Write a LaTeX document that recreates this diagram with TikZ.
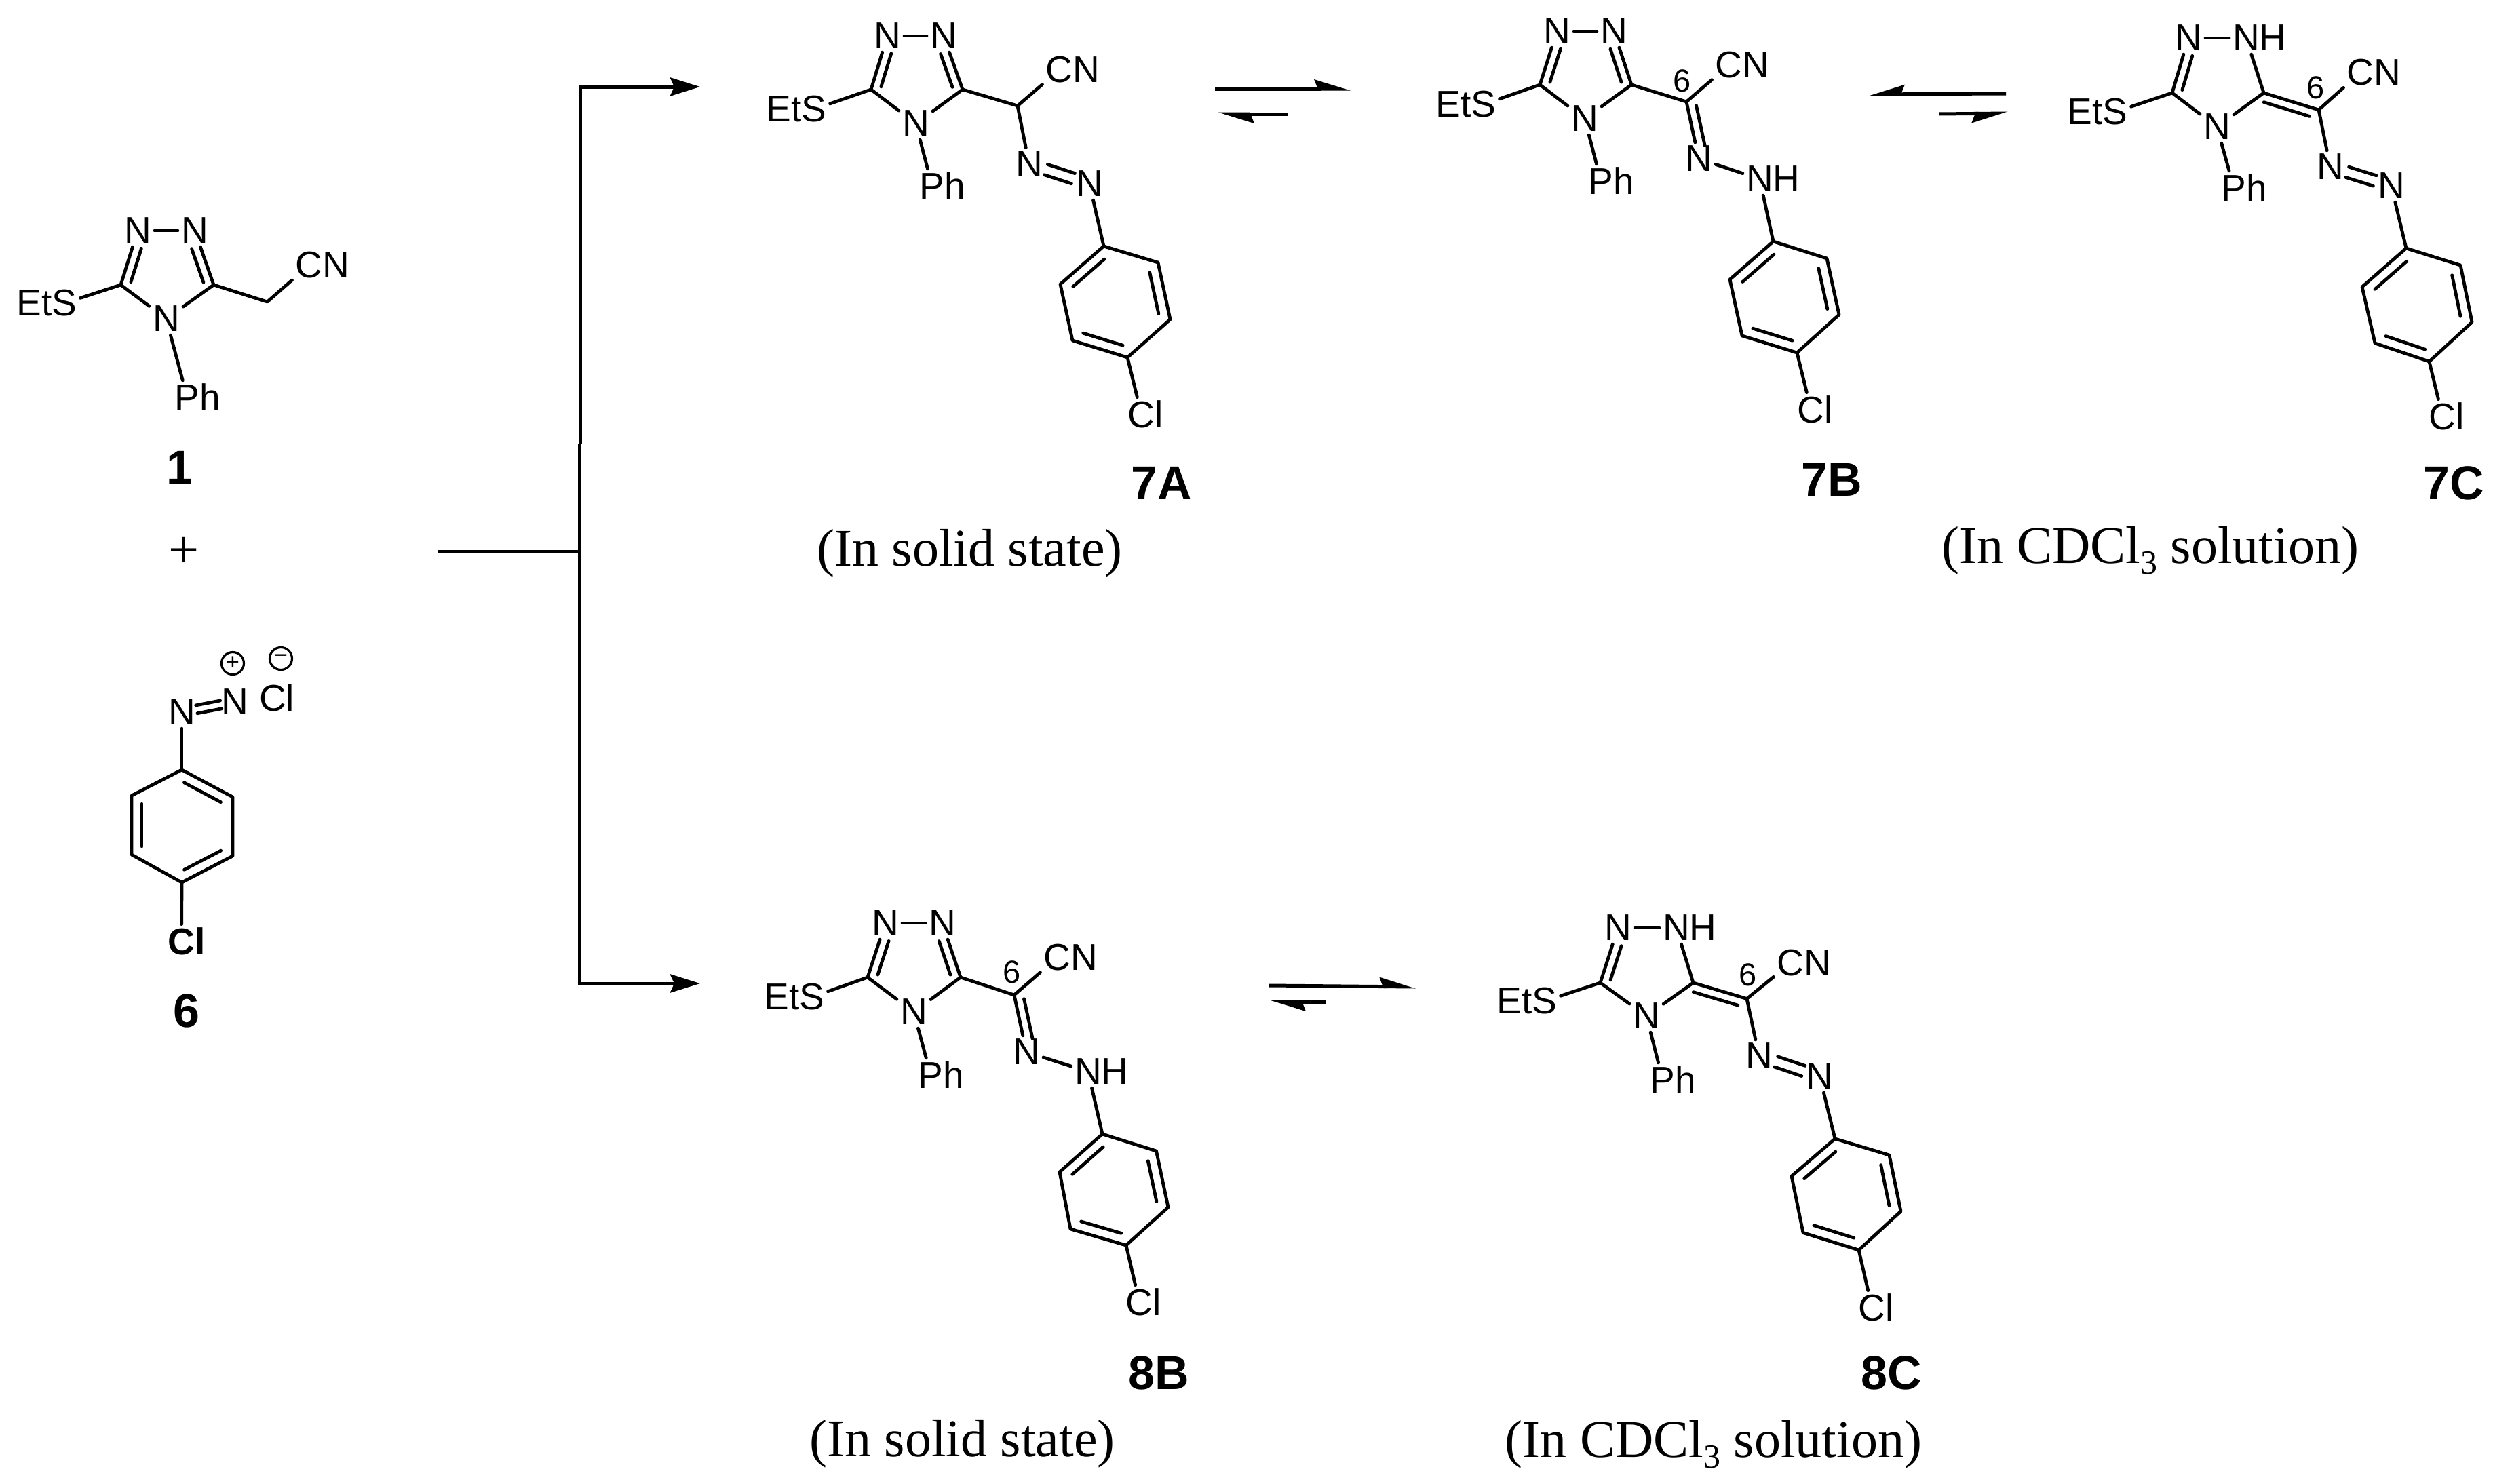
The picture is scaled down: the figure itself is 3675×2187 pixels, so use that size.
\documentclass[tikz,border=0pt]{standalone}
\usepackage{fontspec}
\setmainfont{Liberation Sans}
\newfontfamily\tms{Liberation Serif}
\usetikzlibrary{calc,arrows.meta}
\tikzset{
  bond/.style={line width=4.8pt,line cap=round,line join=round},
  rline/.style={line width=5pt},
  atom/.style={inner sep=5pt,font=\fontsize{55}{55}\selectfont},
  numlab/.style={inner sep=0pt,font=\fontsize{47}{47}\selectfont},
  cpd/.style={inner sep=0pt,font=\fontsize{70}{70}\selectfont\bfseries},
  cond/.style={inner sep=0pt,anchor=base,font=\fontsize{78}{78}\selectfont\tms},
  charge/.style={circle,draw,line width=3.2pt,minimum size=33pt,inner sep=0pt,font=\fontsize{34}{34}\selectfont},
  bigtip/.style={-{Stealth[length=44pt,width=27pt,inset=6pt]}},
  harpL/.style={line width=5pt,-{Stealth[length=45pt,width=27pt,inset=5pt,left]}},
  harpR/.style={line width=5pt,-{Stealth[length=45pt,width=27pt,inset=5pt,right]}}
}
% inner line of a double bond: a, b, angle, from, to, offset
\newcommand{\innerb}[6]{\draw[bond] ($(#1)!#4!(#2)!#6!#3:(#2)$) -- ($(#1)!#5!(#2)!#6!#3:(#2)$);}
% bonds common to all triazole rings
\newcommand{\coreb}[1]{
  \draw[bond] (#1N1) -- (#1N2);
  \draw[bond] (#1CL) -- (#1N1);
  \innerb{#1CL}{#1N1}{-90}{.1}{.72}{13pt}
  \draw[bond] (#1CR) -- (#1N2);
  \draw[bond] (#1CL) -- (#1N4);
  \draw[bond] (#1CR) -- (#1N4);
  \draw[bond] (#1CL) -- (#1S);
  \draw[bond] (#1N4) -- (#1P);
}
% para-chlorophenyl ring
\newcommand{\arylb}[1]{
  \draw[bond] (#1a1) -- (#1a2) -- (#1a3) -- (#1a4) -- (#1a5) -- (#1a6) -- cycle;
  \innerb{#1a6}{#1a1}{-90}{.14}{.86}{15pt}
  \innerb{#1a2}{#1a3}{-90}{.14}{.86}{15pt}
  \innerb{#1a4}{#1a5}{-90}{.14}{.86}{15pt}
  \draw[bond] (#1a4) -- (#1Cl);
}
% azo N=N
\newcommand{\azob}[1]{
  \innerb{#1Na}{#1Nb}{90}{.28}{.73}{8pt}
  \innerb{#1Na}{#1Nb}{-90}{.28}{.73}{8pt}
  \draw[bond] (#1Nb) -- (#1a1);
}
\begin{document}
\begin{tikzpicture}[x=1pt,y=-1pt]
\useasboundingbox (0,0) rectangle (3675,2187);

% ---------- compound 1
\node[atom] (mN1) at (203,340) {N};
\node[atom] (mN2) at (287,340) {N};
\coordinate (mCL) at (178,420);
\coordinate (mCR) at (315,420);
\node[atom] (mN4) at (245,470) {N};
\node[atom] (mS) at (95,447) {\llap{Et}S};
\node[atom] (mP) at (276,586) {P\rlap{h}};
\coordinate (mCH) at (394,445);
\node[atom] (mCN) at (455.5,391) {C\rlap{N}};
\coreb{m}
\innerb{mCR}{mN2}{90}{.1}{.72}{13pt}
\draw[bond] (mCR) -- (mCH) -- (mCN);
\node[cpd] (lab1) at (265,689) {1};
\node[inner sep=0pt,font=\fontsize{80}{80}\selectfont\tms] (plus) at (271.5,815) {+};

% ---------- compound 6
\node[atom] (dNa) at (268,1050) {N};
\node[atom] (dNb) at (346,1035) {N};
\node[charge] (dplus) at (343,978) {+};
\node[charge] (dminus) at (414,971) {−};
\node[atom] (dCm) at (408,1029) {Cl};
\coordinate (da1) at (268,1135);
\coordinate (da2) at (343,1175);
\coordinate (da3) at (343,1262);
\coordinate (da4) at (268,1301);
\coordinate (da5) at (194,1260);
\coordinate (da6) at (194,1173);
\node[atom,font=\fontsize{55}{55}\selectfont\bfseries] (dCl) at (267.5,1388) {C\rlap{l}};
\draw[bond] (da1) -- (da2) -- (da3) -- (da4) -- (da5) -- (da6) -- cycle;
\innerb{da1}{da2}{-90}{.14}{.86}{15pt}
\innerb{da3}{da4}{-90}{.14}{.86}{15pt}
\innerb{da5}{da6}{-90}{.14}{.86}{15pt}
\draw[bond] (da4) -- (dCl);
\innerb{dNa}{dNb}{90}{.28}{.74}{6pt}
\innerb{dNa}{dNb}{-90}{.28}{.74}{6pt}
\draw[bond] (dNa) -- (da1);
\node[cpd] (lab6) at (275,1490) {6};

% ---------- 7A
\node[atom] (aN1) at (1308,53) {N};
\node[atom] (aN2) at (1391,53) {N};
\coordinate (aCL) at (1284,132);
\coordinate (aCR) at (1419,132);
\node[atom] (aN4) at (1350,182) {N};
\node[atom] (aS) at (1200,161) {\llap{Et}S};
\node[atom] (aP) at (1374,274) {P\rlap{h}};
\coordinate (aC) at (1500,156);
\node[atom] (aCN) at (1561.5,103) {C\rlap{N}};
\node[atom] (aNa) at (1517,242) {N};
\node[atom] (aNb) at (1606,271) {N};
\coordinate (aa1) at (1627,363);
\coordinate (aa2) at (1707,387);
\coordinate (aa3) at (1725,471);
\coordinate (aa4) at (1662,527);
\coordinate (aa5) at (1581,502);
\coordinate (aa6) at (1563,419);
\node[atom] (aCl) at (1682.5,611) {C\rlap{l}};
\coreb{a}
\innerb{aCR}{aN2}{90}{.1}{.72}{13pt}
\draw[bond] (aCR) -- (aC) -- (aCN);
\draw[bond] (aC) -- (aNa);
\azob{a}
\arylb{a}
\node[cpd] (lab7A) at (1712,712) {7A};
\node[cond] (cond7A) at (1429.5,834) {(In solid state)};

% ---------- 7B
\node[atom] (bN1) at (2295,46) {N};
\node[atom] (bN2) at (2379,46) {N};
\coordinate (bCL) at (2270,125);
\coordinate (bCR) at (2405,125);
\node[atom] (bN4) at (2336,175) {N};
\node[atom] (bS) at (2187,154) {\llap{Et}S};
\node[atom] (bP) at (2360,267) {P\rlap{h}};
\coordinate (bC) at (2486,150);
\node[numlab] (bsix) at (2480,119) {6};
\node[atom] (bCN) at (2548.5,96) {C\rlap{N}};
\node[atom] (bNa) at (2504,234) {N};
\node[atom] (bNb) at (2594,264) {N\rlap{H}};
\coordinate (ba1) at (2614,356);
\coordinate (ba2) at (2693,381);
\coordinate (ba3) at (2711,464);
\coordinate (ba4) at (2649,520);
\coordinate (ba5) at (2568,495);
\coordinate (ba6) at (2550,412);
\node[atom] (bCl) at (2669.5,604) {C\rlap{l}};
\coreb{b}
\innerb{bCR}{bN2}{90}{.1}{.72}{13pt}
\draw[bond] (bCR) -- (bC) -- (bCN);
\draw[bond] (bC) -- (bNa);
\innerb{bC}{bNa}{90}{.1}{.8}{13pt}
\draw[bond] (bNa) -- (bNb);
\draw[bond] (bNb) -- (ba1);
\arylb{b}
\node[cpd] (lab7B) at (2700,707) {7B};

% ---------- 7C
\node[atom] (cN1) at (3226,56) {N};
\node[atom] (cN2) at (3311,56) {N\rlap{H}};
\coordinate (cCL) at (3202,137);
\coordinate (cCR) at (3337,137);
\node[atom] (cN4) at (3268,187) {N};
\node[atom] (cS) at (3118,165) {\llap{Et}S};
\node[atom] (cP) at (3293,277) {P\rlap{h}};
\coordinate (cC) at (3418,162);
\node[numlab] (csix) at (3414,129) {6};
\node[atom] (cCN) at (3479.5,107) {C\rlap{N}};
\node[atom] (cNa) at (3435,246) {N};
\node[atom] (cNb) at (3525,274) {N};
\coordinate (ca1) at (3547,366);
\coordinate (ca2) at (3627,391);
\coordinate (ca3) at (3644,475);
\coordinate (ca4) at (3581,533);
\coordinate (ca5) at (3501,506);
\coordinate (ca6) at (3482,423);
\node[atom] (cCl) at (3600.5,614) {C\rlap{l}};
\coreb{c}
\draw[bond] (cCR) -- (cC) -- (cCN);
\innerb{cCR}{cC}{-90}{.05}{.88}{13pt}
\draw[bond] (cC) -- (cNa);
\azob{c}
\arylb{c}
\node[cpd] (lab7C) at (3617,712) {7C};
\node[cond] (cond7C) at (3170,830) {(In CDCl\raisebox{-16pt}{\fontsize{50}{50}\selectfont 3} solution)};

% ---------- 8B
\node[atom] (eN1) at (1305,1361) {N};
\node[atom] (eN2) at (1389,1361) {N};
\coordinate (eCL) at (1279,1441);
\coordinate (eCR) at (1416,1441);
\node[atom] (eN4) at (1347,1492) {N};
\node[atom] (eS) at (1197,1470) {\llap{Et}S};
\node[atom] (eP) at (1372,1585) {P\rlap{h}};
\coordinate (eC) at (1495,1467);
\node[numlab] (esix) at (1492,1433) {6};
\node[atom] (eCN) at (1558.5,1412) {C\rlap{N}};
\node[atom] (eNa) at (1513,1551) {N};
\node[atom] (eNb) at (1604,1580) {N\rlap{H}};
\coordinate (ea1) at (1625,1672);
\coordinate (ea2) at (1704.5,1697);
\coordinate (ea3) at (1722,1780);
\coordinate (ea4) at (1660,1836);
\coordinate (ea5) at (1578,1812);
\coordinate (ea6) at (1562,1728);
\node[atom] (eCl) at (1679.5,1920) {C\rlap{l}};
\coreb{e}
\innerb{eCR}{eN2}{90}{.1}{.72}{13pt}
\draw[bond] (eCR) -- (eC) -- (eCN);
\draw[bond] (eC) -- (eNa);
\innerb{eC}{eNa}{90}{.1}{.8}{13pt}
\draw[bond] (eNa) -- (eNb);
\draw[bond] (eNb) -- (ea1);
\arylb{e}
\node[cpd] (lab8B) at (1708,2024) {8B};
\node[cond] (cond8B) at (1418.5,2147) {(In solid state)};

% ---------- 8C
\node[atom] (fN1) at (2385,1368) {N};
\node[atom] (fN2) at (2471,1368) {N\rlap{H}};
\coordinate (fCL) at (2359,1449);
\coordinate (fCR) at (2496,1449);
\node[atom] (fN4) at (2427,1498) {N};
\node[atom] (fS) at (2277,1476) {\llap{Et}S};
\node[atom] (fP) at (2451,1592) {P\rlap{h}};
\coordinate (fC) at (2575,1472.5);
\node[numlab] (fsix) at (2577,1437) {6};
\node[atom] (fCN) at (2639.5,1420) {C\rlap{N}};
\node[atom] (fNa) at (2593,1557) {N};
\node[atom] (fNb) at (2682.5,1587) {N};
\coordinate (fa1) at (2705,1679);
\coordinate (fa2) at (2785,1703);
\coordinate (fa3) at (2802,1786);
\coordinate (fa4) at (2740,1843);
\coordinate (fa5) at (2658,1817.5);
\coordinate (fa6) at (2641,1734);
\node[atom] (fCl) at (2759.5,1928) {C\rlap{l}};
\coreb{f}
\draw[bond] (fCR) -- (fC) -- (fCN);
\innerb{fCR}{fC}{-90}{.05}{.88}{13pt}
\draw[bond] (fC) -- (fNa);
\azob{f}
\arylb{f}
\node[cpd] (lab8C) at (2788,2024) {8C};
\node[cond] (cond8C) at (2526,2148) {(In CDCl\raisebox{-16pt}{\fontsize{50}{50}\selectfont 3} solution)};

% ---------- branching reaction arrows
\coordinate (feed) at (646,813);
\coordinate (jn) at (854.5,813);
\coordinate (jog) at (854.5,654);
\coordinate (jogu) at (855.5,654);
\coordinate (ctop) at (855.5,128);
\coordinate (cbot) at (854.5,1450);
\coordinate (ttop) at (1032,128);
\coordinate (tbot) at (1032,1450);
\draw[line width=4pt] (feed) -- (jn);
\draw[rline,bigtip] (jogu) -- (ctop) -- (ttop);
\draw[rline,bigtip] (jog) -- (cbot) -- (tbot);

% ---------- equilibrium arrows
\coordinate (e1s) at (1791,131); \coordinate (e1t) at (1991,131);
\coordinate (e2s) at (1898,168); \coordinate (e2t) at (1795,168);
\coordinate (e3s) at (2957,138); \coordinate (e3t) at (2754,139);
\coordinate (e4s) at (2858,168); \coordinate (e4t) at (2960,167);
\coordinate (e5s) at (1871,1453); \coordinate (e5t) at (2087,1455);
\coordinate (e6s) at (1955,1477); \coordinate (e6t) at (1871,1477);
\draw[harpL] (e1s) -- (e1t);
\draw[harpL] (e2s) -- (e2t);
\draw[harpR] (e3s) -- (e3t);
\draw[harpR] (e4s) -- (e4t);
\draw[harpL] (e5s) -- (e5t);
\draw[harpL] (e6s) -- (e6t);
\end{tikzpicture}
\end{document}
